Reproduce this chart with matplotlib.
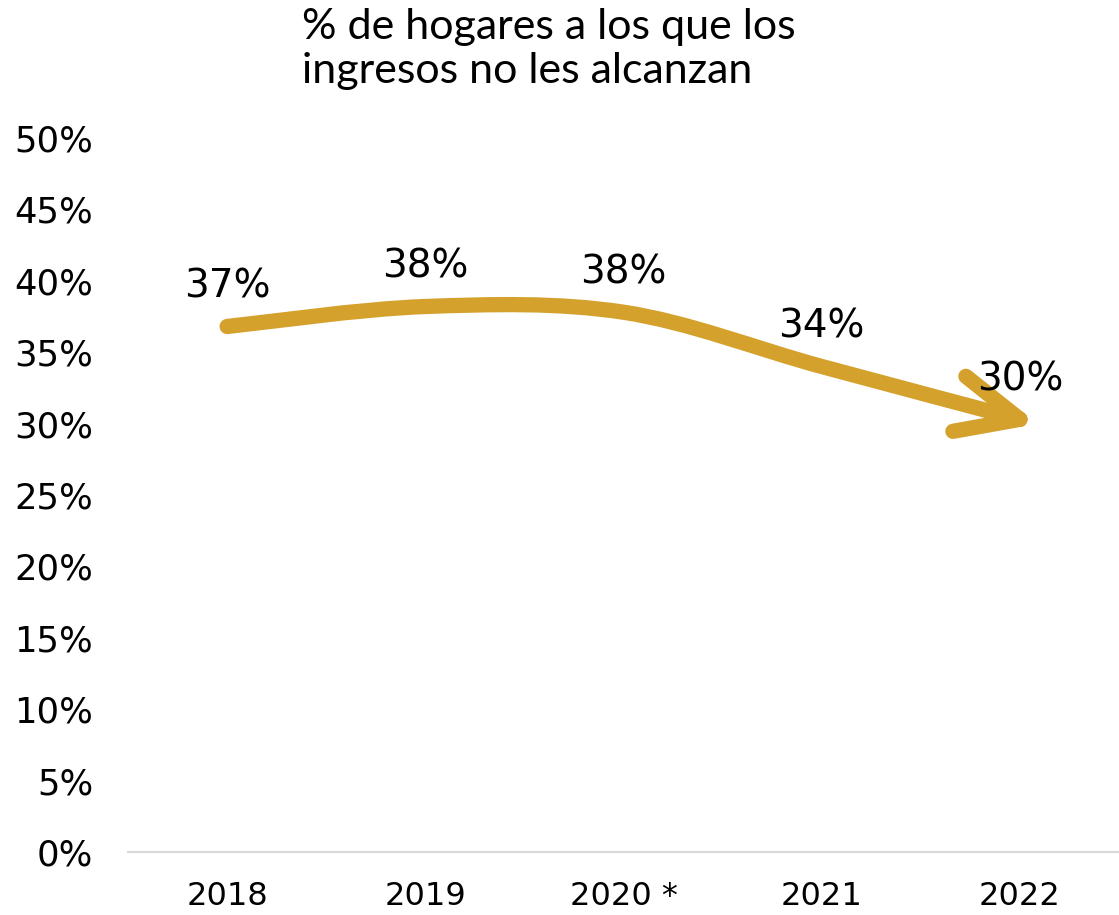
import matplotlib
matplotlib.use("Agg")
import matplotlib.pyplot as plt
from matplotlib.path import Path
from matplotlib.patches import PathPatch
from matplotlib.lines import Line2D
from matplotlib.transforms import Affine2D, ScaledTranslation
import numpy as np

years = ["2018", "2019", "2020 *", "2021", "2022"]
values = [36.8, 38.2, 37.8, 34.0, 30.3]
labels = ["37%", "38%", "38%", "34%", "30%"]
yticks = [0, 5, 10, 15, 20, 25, 30, 35, 40, 45, 50]
title = "% de hogares a los que los\ningresos no les alcanzan"

GOLD = "#D4A12C"
NUMFONT = ["DejaVu Sans"]
TITLEFONT = ["Lato", "DejaVu Sans"]

W, H = 1119, 915
fig = plt.figure(figsize=(W / 100, H / 100), dpi=100)
ax = fig.add_axes([128 / W, (915 - 852) / H, (W - 128) / W, (852 - 138) / H])
ax.set_xlim(-0.5, 4.5)
ax.set_ylim(0, 50)

for s in ["top", "right", "left"]:
    ax.spines[s].set_visible(False)
ax.spines["bottom"].set_color("#D9D9D9")
ax.spines["bottom"].set_linewidth(1.5)

x = np.arange(len(values), dtype=float)
ax.set_xticks(x)
ax.set_xticklabels(years, fontsize=23, family=NUMFONT)
ax.set_yticks(yticks)
ax.set_yticklabels([f"{v}%" for v in yticks], fontsize=25.5, family=NUMFONT)
ax.tick_params(axis="both", length=0)
ax.tick_params(axis="y", pad=25)
ax.tick_params(axis="x", pad=21)

# smooth curve through data points (Catmull-Rom as cubic Bezier)
pts = np.column_stack([x, values])
ext = np.vstack([pts[0], pts, pts[-1]])
verts = [tuple(pts[0])]
codes = [Path.MOVETO]
for i in range(len(pts) - 1):
    p0, p1, p2, p3 = ext[i], ext[i + 1], ext[i + 2], ext[i + 3]
    c1 = p1 + (p2 - p0) / 6.0
    c2 = p2 - (p3 - p1) / 6.0
    verts += [tuple(c1), tuple(c2), tuple(p2)]
    codes += [Path.CURVE4] * 3
patch = PathPatch(Path(verts, codes), facecolor="none", edgecolor=GOLD,
                  lw=11, capstyle="round", joinstyle="round", clip_on=False)
ax.add_patch(patch)

# open arrow head at the last point (arm offsets in pixels)
tipx, tipy = x[-1], values[-1]
for dx, dy in [(-54, 43), (-67, -12)]:
    seg = Line2D([0, dx], [0, dy], color=GOLD, lw=11, solid_capstyle="round",
                 clip_on=False)
    seg.set_transform(Affine2D().scale(fig.dpi / 100) +
                      ScaledTranslation(tipx, tipy, ax.transData))
    ax.add_line(seg)

# data labels
for xi, v, lab in zip(x, values, labels):
    ax.annotate(lab, (xi, v), xytext=(0, 15), textcoords="offset points",
                ha="center", va="bottom", fontsize=28, family=NUMFONT)

fig.text(302 / W, 1 - 8 / H, title, ha="left", va="top", fontsize=31,
         family=TITLEFONT, linespacing=1.2)

fig.savefig("out.png", dpi=100)
